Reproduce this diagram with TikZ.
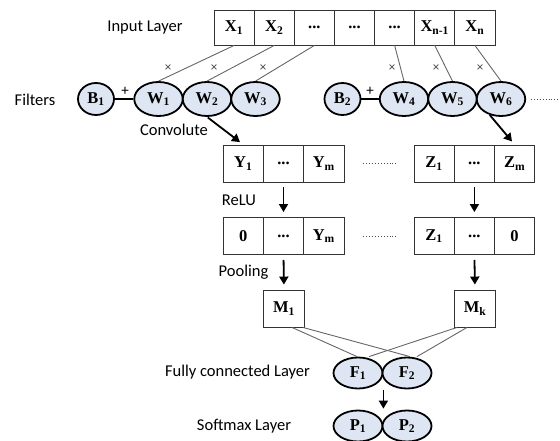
\documentclass[tikz,border=0pt]{standalone}
\usepackage{fontspec}
\setmainfont{Liberation Serif}
\newfontfamily\labelfont{Carlito}
\usetikzlibrary{shapes.geometric,arrows.meta,calc}
\definecolor{ovalfill}{RGB}{221,230,242}
\begin{document}
\begin{tikzpicture}[x=1pt,y=-1pt,
  cell/.style={draw=black!80, line width=0.9pt, minimum width=40.14pt, minimum height=35pt, inner sep=0pt, font=\fontsize{16.5}{18}\selectfont\bfseries},
  ycell/.style={cell, minimum width=40.3pt, minimum height=37pt},
  oval/.style={ellipse, draw=black, line width=1.8pt, fill=ovalfill, minimum width=48.5pt, minimum height=34pt, inner sep=0pt, font=\fontsize{16.5}{18}\selectfont\bfseries},
  bias/.style={oval, minimum width=36pt, minimum height=32pt},
  fc/.style={oval, minimum width=49pt, minimum height=31pt},
  lbl/.style={font=\labelfont\fontsize{16.5}{18}\selectfont, inner sep=0pt},
  wire/.style={draw=black!60, line width=0.9pt},
  flow/.style={line width=1.8pt, -{Triangle[length=8pt,width=9pt]}},
  mult/.style={font=\labelfont\fontsize{13}{14}\selectfont, text=black!75, inner sep=0pt},
  plus/.style={font=\labelfont\fontsize{15}{16}\selectfont, inner sep=0pt},
  dotline/.style={dotted, line width=0.9pt, black!70}
]
\useasboundingbox (0,0) rectangle (560,441);

% input layer
\node[cell] (x1) at (234.07,27.5) {X\textsubscript{1}};
\node[cell] (x2) at (274.21,27.5) {X\textsubscript{2}};
\node[cell] (x3) at (314.35,27.5) {...};
\node[cell] (x4) at (354.49,27.5) {...};
\node[cell] (x5) at (394.63,27.5) {...};
\node[cell] (x6) at (434.77,27.5) {X\textsubscript{n-1}};
\node[cell] (x7) at (474.91,27.5) {X\textsubscript{n}};
\node[lbl] (linput) at (145,28) {Input Layer};

% filters
\node[lbl] (lfilt) at (35,100) {Filters};
\node[bias] (b1) at (96,99) {B\textsubscript{1}};
\node[oval] (w1) at (158.5,99) {W\textsubscript{1}};
\node[oval] (w2) at (207,99) {W\textsubscript{2}};
\node[oval] (w3) at (255.5,99) {W\textsubscript{3}};
\node[bias] (b2) at (342.5,99) {B\textsubscript{2}};
\node[oval] (w4) at (404,99) {W\textsubscript{4}};
\node[oval] (w5) at (452.5,99) {W\textsubscript{5}};
\node[oval] (w6) at (501,99) {W\textsubscript{6}};
\draw[line width=1.6pt] (b1) -- (w1);
\draw[line width=1.6pt] (b2) -- (w4);
\node[plus] (p1plus) at (125,91) {+};
\node[plus] (p2plus) at (370,91) {+};
\coordinate (rend) at (560,99);
\draw[dotline] ([xshift=5pt]w6.east) -- (rend);

% wires input -> filters
\draw[wire] (x1.south) -- (w1.north);
\draw[wire] (x2.south) -- (w2.north);
\draw[wire] (x3.south) -- (w3.north);
\draw[wire] (x5.south) -- (w4.north);
\draw[wire] (x6.south) -- (w5.north);
\draw[wire] (x7.south) -- (w6.north);
\node[mult] (m1x) at (168,68) {×};
\node[mult] (m2x) at (214,68) {×};
\node[mult] (m3x) at (263,68) {×};
\node[mult] (m4x) at (392,68) {×};
\node[mult] (m5x) at (436,68) {×};
\node[mult] (m6x) at (480,68) {×};

% convolution output
\node[lbl] (lconv) at (174,130) {Convolute};
\node[ycell] (y1) at (243.2,163.5) {Y\textsubscript{1}};
\node[ycell] (y2) at (283.5,163.5) {...};
\node[ycell] (y3) at (323.8,163.5) {Y\textsubscript{m}};
\node[ycell] (z1) at (434.1,163.5) {Z\textsubscript{1}};
\node[ycell] (z2) at (474.4,163.5) {...};
\node[ycell] (z3) at (514.6,163.5) {Z\textsubscript{m}};
\draw[dotline] ([xshift=19pt]y3.east) -- ([xshift=-16pt]z1.west);
\draw[flow, shorten <=1pt, shorten >=4pt] (w2.south) -- (y1.north);
\draw[flow, shorten >=4pt] (w6.235) -- (z3.north);

% relu
\node[lbl] (lrelu) at (239,200) {ReLU};
\node[ycell] (r1) at (243.2,236) {0};
\node[ycell] (r2) at (283.5,236) {...};
\node[ycell] (r3) at (323.8,236) {Y\textsubscript{m}};
\node[ycell] (s1) at (434.1,236) {Z\textsubscript{1}};
\node[ycell] (s2) at (474.4,236) {...};
\node[ycell] (s3) at (514.6,236) {0};
\draw[dotline] ([xshift=19pt]r3.east) -- ([xshift=-16pt]s1.west);
\draw[flow, shorten <=5pt, shorten >=5pt] (y2.south) -- (r2.north);
\draw[flow, shorten <=5pt, shorten >=5pt] (z2.south) -- (s2.north);

% pooling
\node[lbl] (lpool) at (243.5,272) {Pooling};
\node[ycell, minimum width=41.5pt] (m1) at (284,308.5) {M\textsubscript{1}};
\node[ycell, minimum width=41pt] (mk) at (475,308.5) {M\textsubscript{k}};
\draw[flow, shorten <=5pt, shorten >=5pt] (r2.south) -- (m1.north);
\draw[flow, shorten <=5pt, shorten >=5pt] (s2.south) -- (mk.north);

% fully connected
\node[lbl] (lfc) at (237.5,372) {Fully connected Layer};
\node[fc] (f1) at (358,373) {F\textsubscript{1}};
\node[fc] (f2) at (407,373) {F\textsubscript{2}};
\draw[wire] ([xshift=8pt]m1.south) -- ([xshift=-1pt]f1.north);
\draw[wire] ([xshift=19pt]m1.south) -- ([xshift=3pt]f2.north);
\draw[wire] ([xshift=-18pt]mk.south) -- ([xshift=11pt]f1.north);
\draw[wire] ([xshift=-8pt]mk.south) -- ([xshift=10pt]f2.north);

% softmax
\node[lbl] (lsoft) at (244,426) {Softmax Layer};
\node[fc] (pp1) at (358,426) {P\textsubscript{1}};
\node[fc] (pp2) at (407,426) {P\textsubscript{2}};
\coordinate (fa) at (f1.east |- f1.south);
\coordinate (pa) at (pp1.east |- pp1.north);
\draw[flow, shorten <=1pt, shorten >=1pt] (fa) -- (pa);
\end{tikzpicture}
\end{document}
